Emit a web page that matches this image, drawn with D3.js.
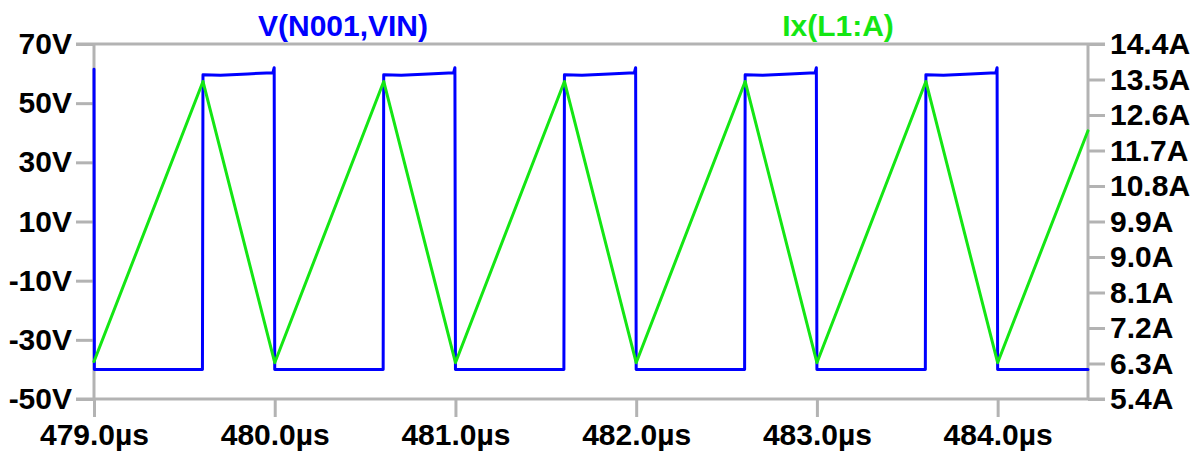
<!DOCTYPE html>
<html>
<head>
<meta charset="utf-8">
<script src="https://cdn.jsdelivr.net/npm/d3@7"></script>
<style>
  html, body { margin: 0; padding: 0; background: #fff; }
  svg { display: block; }
  text { font-family: "Liberation Sans", Arial, sans-serif; font-weight: bold; }
</style>
</head>
<body>
<svg id="chart" width="1201" height="454"></svg>
<script>
// Switch-node voltage V(N001,VIN): time (µs) / volts
const voltTime = [
  479.000, 479.002, 479.600, 479.603, 479.700, 479.850, 479.990, 479.997, 480.000,
  480.600, 480.603, 480.700, 480.850, 480.990, 480.997, 481.000,
  481.600, 481.603, 481.700, 481.850, 481.990, 481.997, 482.000,
  482.600, 482.603, 482.700, 482.850, 482.990, 482.997, 483.000,
  483.600, 483.603, 483.700, 483.850, 483.990, 483.997, 484.000,
  484.500
];
const voltValue = [
  61.5, -40, -40, 59.6, 59.4, 59.9, 60.3, 62.0, -40,
  -40, 59.6, 59.4, 59.9, 60.3, 62.0, -40,
  -40, 59.6, 59.4, 59.9, 60.3, 62.0, -40,
  -40, 59.6, 59.4, 59.9, 60.3, 62.0, -40,
  -40, 59.6, 59.4, 59.9, 60.3, 62.0, -40,
  -40
];

// Inductor current Ix(L1:A): time (µs) / amps
const currTime = [479.000, 479.603, 480.000, 480.603, 481.000, 481.603, 482.000,
                  482.603, 483.000, 483.603, 484.000, 484.500];
const currValue = [6.35, 13.45, 6.32, 13.45, 6.32, 13.45, 6.32,
                   13.45, 6.32, 13.45, 6.32, 12.2];

// Axis ticks
const voltTicks = [-50, -30, -10, 10, 30, 50, 70];
const currTicks = [5.4, 6.3, 7.2, 8.1, 9.0, 9.9, 10.8, 11.7, 12.6, 13.5, 14.4];
const timeTicks = [479, 480, 481, 482, 483, 484];

const traceNames = ["V(N001,VIN)", "Ix(L1:A)"];
const traceColors = ["#0000ff", "#14e614"];

const svg = d3.select("#chart");
const plotLeft = 94, plotRight = 1088, plotTop = 44, plotBottom = 399;
const gridColor = "#b3b3b3";

const x = d3.scaleLinear().domain([479, 484.5]).range([plotLeft, plotRight]);
const yV = d3.scaleLinear().domain([-50, 70]).range([plotBottom, plotTop]);
const yI = d3.scaleLinear().domain([5.4, 14.4]).range([plotBottom, plotTop]);

function styleAxis(g) {
  g.select(".domain").remove();
  g.selectAll(".tick line").attr("stroke", gridColor).attr("stroke-width", 3);
  g.selectAll(".tick text").attr("fill", "#000").style("font-size", "30px")
    .style("font-family", "'Liberation Sans', Arial, sans-serif").style("font-weight", "bold");
}

// Left (volts) axis
svg.append("g").attr("transform", `translate(${plotLeft},0)`)
  .call(d3.axisLeft(yV).tickValues(voltTicks).tickSize(18).tickPadding(4)
    .tickFormat(d => d + "V"))
  .call(styleAxis);

// Right (amps) axis
svg.append("g").attr("transform", `translate(${plotRight},0)`)
  .call(d3.axisRight(yI).tickValues(currTicks).tickSize(17).tickPadding(5)
    .tickFormat(d => d.toFixed(1) + "A"))
  .call(styleAxis);

// Bottom (time) axis
svg.append("g").attr("transform", `translate(0,${plotBottom})`)
  .call(d3.axisBottom(x).tickValues(timeTicks).tickSize(18).tickPadding(7)
    .tickFormat(d => d.toFixed(1) + "µs"))
  .call(styleAxis);

// Frame: top and bottom rules run across the tick area on both sides
const frame = svg.append("g").attr("stroke", gridColor).attr("stroke-width", 3).attr("fill", "none");
frame.append("line").attr("x1", plotLeft - 18).attr("x2", plotRight + 17).attr("y1", plotTop).attr("y2", plotTop);
frame.append("line").attr("x1", plotLeft - 18).attr("x2", plotRight + 17).attr("y1", plotBottom).attr("y2", plotBottom);
frame.append("line").attr("x1", plotLeft).attr("x2", plotLeft).attr("y1", plotTop).attr("y2", plotBottom);
frame.append("line").attr("x1", plotRight).attr("x2", plotRight).attr("y1", plotTop).attr("y2", plotBottom);

// Traces
const voltLine = d3.line().x((d, i) => x(voltTime[i])).y(d => yV(d));
const currLine = d3.line().x((d, i) => x(currTime[i])).y(d => yI(d));

svg.append("path").datum(voltValue).attr("d", voltLine)
  .attr("fill", "none").attr("stroke", traceColors[0]).attr("stroke-width", 3)
  .attr("stroke-linejoin", "round").attr("stroke-linecap", "round");

svg.append("path").datum(currValue).attr("d", currLine)
  .attr("fill", "none").attr("stroke", traceColors[1]).attr("stroke-width", 3)
  .attr("stroke-linejoin", "round").attr("stroke-linecap", "round");

// Trace titles
svg.append("text").attr("x", 343).attr("y", 36).attr("text-anchor", "middle")
  .attr("fill", traceColors[0]).style("font-size", "30px").text(traceNames[0]);
svg.append("text").attr("x", 838).attr("y", 36).attr("text-anchor", "middle")
  .attr("fill", traceColors[1]).style("font-size", "30px").text(traceNames[1]);
</script>
</body>
</html>
